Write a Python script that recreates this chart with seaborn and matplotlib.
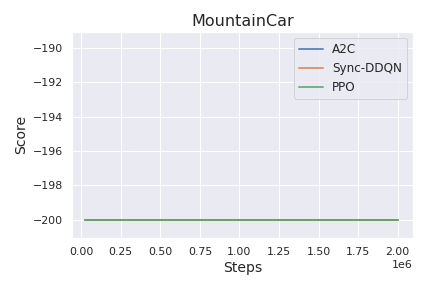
import matplotlib
matplotlib.use('Agg')
import matplotlib.pyplot as plt
import pandas as pd
import seaborn as sns

# Data: every algorithm stays at -200
steps = [25000, 500000, 1000000, 1500000, 2000000]
a2c_score = [-200, -200, -200, -200, -200]
ddqn_score = [-200, -200, -200, -200, -200]
ppo_score = [-200, -200, -200, -200, -200]

sns.set_theme(style='darkgrid')

df = pd.concat([
    pd.DataFrame({'Steps': steps, 'Score': a2c_score, 'Algo': 'A2C'}),
    pd.DataFrame({'Steps': steps, 'Score': ddqn_score, 'Algo': 'Sync-DDQN'}),
    pd.DataFrame({'Steps': steps, 'Score': ppo_score, 'Algo': 'PPO'}),
])

fig, ax = plt.subplots(figsize=(6, 4), dpi=72)
palette = sns.color_palette('deep', 3)
sns.lineplot(data=df, x='Steps', y='Score', hue='Algo', palette=palette,
             linewidth=2, alpha=0.8, ax=ax)

ax.set_xlim(-57000, 2096000)
ax.set_ylim(-201.05, -189.07)
ax.set_title('MountainCar', fontsize=16)
ax.set_xlabel('Steps', fontsize=14)
ax.set_ylabel('Score', fontsize=14)
ax.legend(title=None, loc='upper right', fontsize=12)

fig.subplots_adjust(left=0.167, right=0.956, top=0.889, bottom=0.174)
plt.savefig('out.png')
